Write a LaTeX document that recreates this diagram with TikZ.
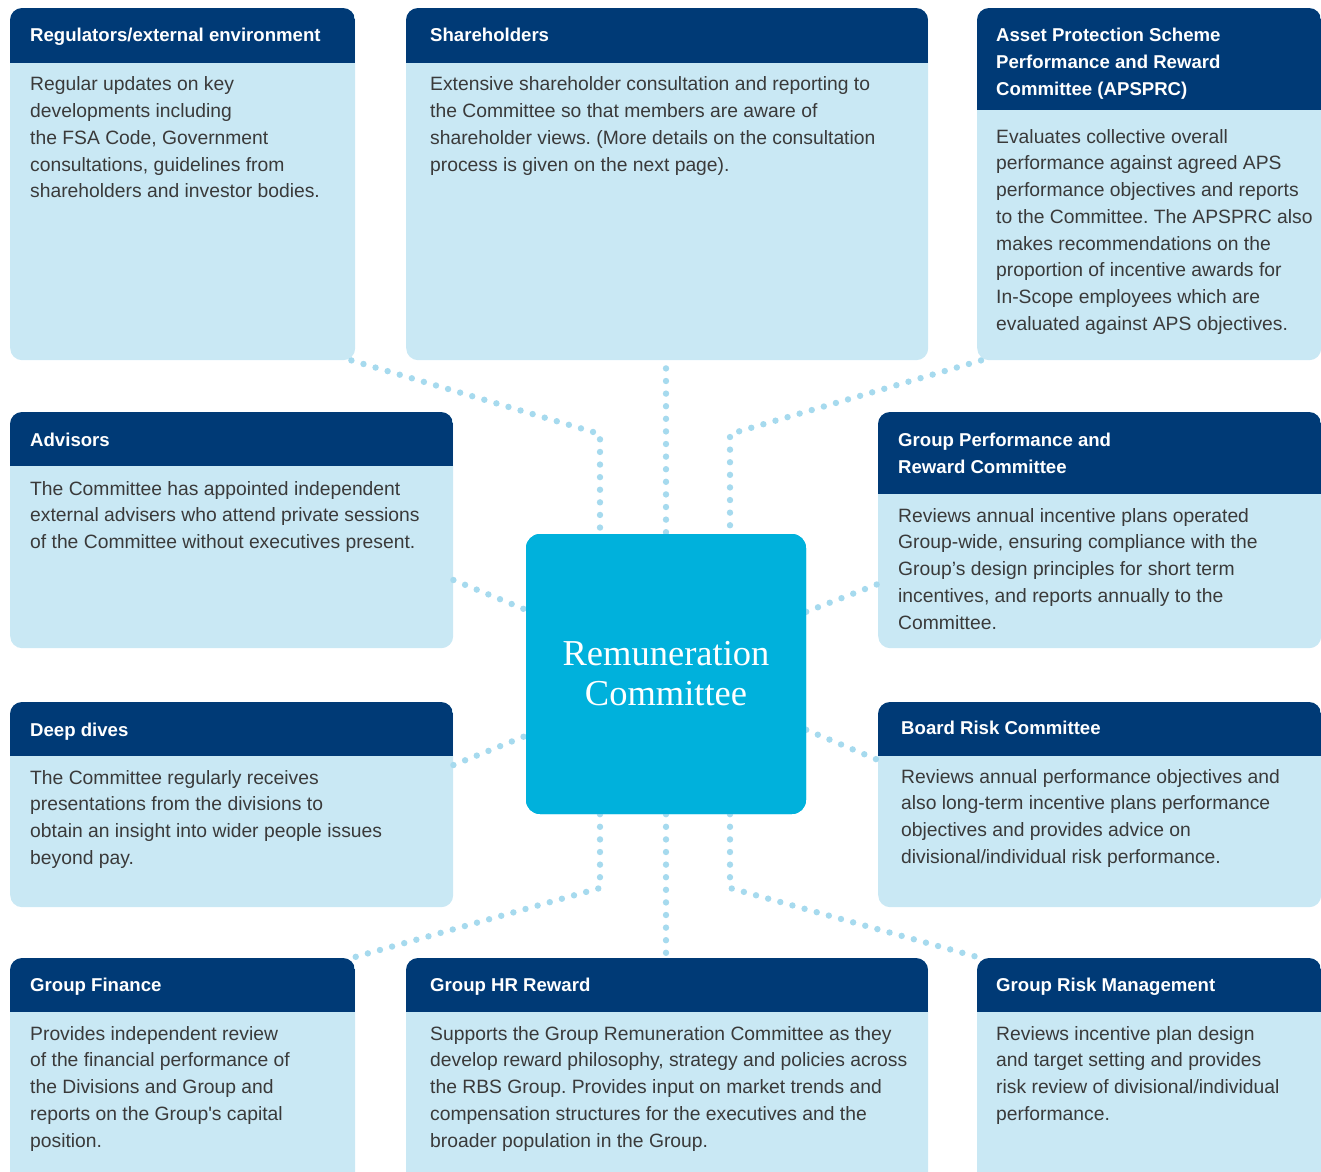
\documentclass[tikz,border=0pt]{standalone}
\usepackage{fontspec}
\setsansfont{Liberation Sans}
\newfontfamily\hubfont{Liberation Serif}
\frenchspacing
\definecolor{navy}{HTML}{003A76}
\definecolor{cardfill}{HTML}{C9E8F4}
\definecolor{hub}{HTML}{00B1DC}
\definecolor{dotblue}{HTML}{A6DAEE}
\definecolor{bodygray}{HTML}{3A3A3A}

% card: name, left, right, top, bottom, header bottom
\newcommand\drawcard[6]{%
  \node[card, anchor=north west, minimum width={#3-#2}, minimum height={#5-#4}] (#1) at (#2,#4) {};
  \begin{scope}
    \clip[rounded corners=12] (#2,#4) rectangle (#3,#5);
    \fill[navy] (#2,#4) rectangle (#3,#6);
  \end{scope}}
% text block: style, name, left, first baseline, text
\newcommand\cardtext[5]{%
  \node[#1] (#2) at (#3,#4-18.69) {\strut #5};}

\begin{document}
\begin{tikzpicture}[x=1pt, y=-1pt,
  card/.style={fill=cardfill, rounded corners=12, inner sep=0, draw=none},
  headtext/.style={anchor=north west, inner sep=0, align=left, text=white,
    font=\sffamily\bfseries\fontsize{18.6}{26.7}\selectfont},
  bodytext/.style={anchor=north west, inner sep=0, align=left, text=bodygray,
    font=\sffamily\fontsize{19.3}{26.7}\selectfont},
  hubbox/.style={fill=hub, rounded corners=14, minimum width=280, minimum height=280,
    inner sep=0, align=center, text=white, font=\hubfont\fontsize{36.5}{40}\selectfont},
  dotline/.style={draw=dotblue, line width=6.4, line cap=round, dash pattern=on 0pt off 12.6pt}]
\useasboundingbox (0,0) rectangle (1321,1171);

% bend points of the dotted links
\coordinate (kul) at (600,434);
\coordinate (kur) at (730,434);
\coordinate (kll) at (600,888);
\coordinate (klr) at (730,888);
\coordinate (kmid) at (666,0);

\node[hubbox] (rem) at (666,674) {};

% cards
\drawcard{reg}{10}{355}{8}{360}{63}
\drawcard{share}{406}{928}{8}{360}{63}
\drawcard{aps}{977}{1321}{8}{360}{110}
\drawcard{adv}{10}{453}{412}{648}{466}
\drawcard{gprc}{878}{1321}{412}{648}{494}
\drawcard{deep}{10}{453}{702}{907}{756}
\drawcard{brc}{878}{1321}{702}{907}{756}
\drawcard{gfin}{10}{355}{958}{1190}{1012}
\drawcard{ghr}{406}{928}{958}{1190}{1012}
\drawcard{grm}{977}{1321}{958}{1190}{1012}

% dotted links to the committee
\draw[dotline] ([xshift=-4]reg.south east) -- (kul) -- (rem.north -| kul);
\draw[dotline] (share.south -| kmid) ++(0,8) -- (rem.north -| kmid);
\draw[dotline] ([xshift=4]aps.south west) -- (kur) -- (rem.north -| kur);
\draw[dotline] ([yshift=-168]adv.north east) -- ([yshift=-76]rem.north west);
\draw[dotline] ([yshift=-78]rem.north east) -- ([yshift=-172]gprc.north west);
\draw[dotline] ([yshift=-63]deep.north east) -- ([yshift=-202]rem.north west);
\draw[dotline] ([yshift=-196]rem.north east) -- ([yshift=-58]brc.north west);
\draw[dotline] (rem.south -| kll) -- (kll) -- ([xshift=-4]gfin.north east);
\draw[dotline] (rem.south -| kmid) -- (ghr.north -| kmid);
\draw[dotline] (rem.south -| klr) -- (klr) -- ([xshift=4]grm.north west);

% the committee itself, over the ends of the dots
\node[hubbox] (remtop) at (666,674) {Remuneration\\Committee};

% headings
\cardtext{headtext}{regh}{30}{41}{Regulators/external environment}
\cardtext{headtext}{shareh}{430}{41}{Shareholders}
\cardtext{headtext}{apsh}{996}{41.7}{Asset Protection Scheme\\Performance and Reward\\Committee (APSPRC)}
\cardtext{headtext}{advh}{30}{446}{Advisors}
\cardtext{headtext}{gprch}{898}{446.5}{Group Performance and\\Reward Committee}
\cardtext{headtext}{deeph}{30}{736}{Deep dives}
\cardtext{headtext}{brch}{901}{734}{Board Risk Committee}
\cardtext{headtext}{gfinh}{30}{991}{Group Finance}
\cardtext{headtext}{ghrh}{430}{991}{Group HR Reward}
\cardtext{headtext}{grmh}{996}{991}{Group Risk Management}

% descriptions
\cardtext{bodytext}{regb}{30}{90.7}{Regular updates on key\\developments including\\the FSA Code, Government\\consultations, guidelines from\\shareholders and investor bodies.}
\cardtext{bodytext}{shareb}{430}{90.7}{Extensive shareholder consultation and reporting to\\the Committee so that members are aware of\\shareholder views. (More details on the consultation\\process is given on the next page).}
\cardtext{bodytext}{apsb}{996}{143}{Evaluates collective overall\\performance against agreed APS\\performance objectives and reports\\to the Committee. The APSPRC also\\makes recommendations on the\\proportion of incentive awards for\\In-Scope employees which are\\evaluated against APS objectives.}
\cardtext{bodytext}{advb}{30}{495}{The Committee has appointed independent\\external advisers who attend private sessions\\of the Committee without executives present.}
\cardtext{bodytext}{gprcb}{898}{522}{Reviews annual incentive plans operated\\Group-wide, ensuring compliance with the\\Group’s design principles for short term\\incentives, and reports annually to the\\Committee.}
\cardtext{bodytext}{deepb}{30}{784}{The Committee regularly receives\\presentations from the divisions to\\obtain an insight into wider people issues\\beyond pay.}
\cardtext{bodytext}{brcb}{901}{783}{Reviews annual performance objectives and\\also long-term incentive plans performance\\objectives and provides advice on\\divisional/individual risk performance.}
\cardtext{bodytext}{gfinb}{30}{1040}{Provides independent review\\of the financial performance of\\the Divisions and Group and\\reports on the Group\textquotesingle s capital\\position.}
\cardtext{bodytext}{ghrb}{430}{1040}{Supports the Group Remuneration Committee as they\\develop reward philosophy, strategy and policies across\\the RBS Group. Provides input on market trends and\\compensation structures for the executives and the\\broader population in the Group.}
\cardtext{bodytext}{grmb}{996}{1040}{Reviews incentive plan design\\and target setting and provides\\risk review of divisional/individual\\performance.}
\end{tikzpicture}
\end{document}
